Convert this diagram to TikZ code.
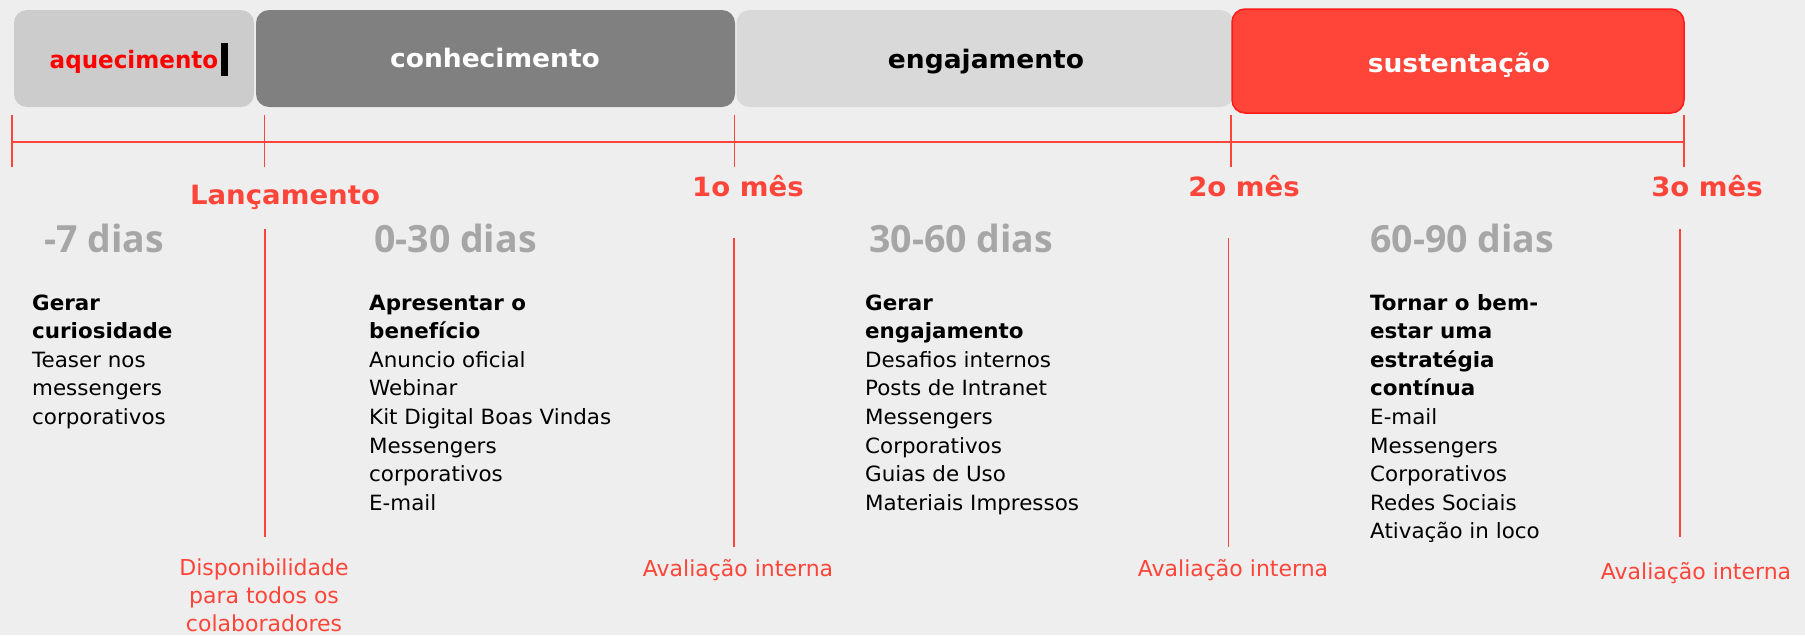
\documentclass[tikz,border=0pt]{standalone}
\usepackage{fontspec}
\setmainfont{DejaVu Sans}[FakeStretch=1.02]
\newfontfamily\hdfont{DejaVu Sans}[FakeStretch=1.04]
\newfontfamily\aqfont{DejaVu Sans}[FakeStretch=0.96]
\newfontfamily\lblfont{DejaVu Sans}
\newfontfamily\daysfont{Open Sans}
\definecolor{bgc}{HTML}{EEEEEE}
\definecolor{aqc}{HTML}{CCCCCC}
\definecolor{coc}{HTML}{808080}
\definecolor{enc}{HTML}{D9D9D9}
\definecolor{suc}{HTML}{FF4539}
\definecolor{suedge}{HTML}{FF1A1A}
\definecolor{redc}{HTML}{FF4539}
\definecolor{pured}{HTML}{FF0000}
\definecolor{dayc}{HTML}{A6A6A6}
\tikzset{
  phasebox/.style={rounded corners=13pt, inner sep=0pt, outer sep=0pt},
  phasetext/.style={font=\hdfont\bfseries\fontsize{25.5}{30}\selectfont, anchor=base, inner sep=0pt},
  milestone/.style={font=\hdfont\bfseries\fontsize{26.5}{30}\selectfont, text=redc, anchor=base, inner sep=0pt},
  daystext/.style={font=\daysfont\bfseries\fontsize{37.5}{40}\selectfont, text=dayc, anchor=base west, inner sep=0pt},
  body/.style={font=\fontsize{21}{28.6}\selectfont, text=black, anchor=base west, inner sep=0pt},
  evaltext/.style={font=\lblfont\fontsize{22}{28.7}\selectfont, text=redc, anchor=base, inner sep=0pt},
  axisline/.style={draw=redc, line width=2.2pt},
  tickline/.style={draw=redc, line width=1.4pt},
  guide/.style={draw=redc, line width=1.8pt}
}
\begin{document}
\begin{tikzpicture}[x=1pt, y=-1pt]
\path[fill=bgc, use as bounding box] (0,0) rectangle (1805,635);

% phase boxes
\node[phasebox, fill=aqc, minimum width=240pt, minimum height=97pt] (aqbox) at (134,58.5) {};
\node[phasebox, fill=enc, minimum width=497pt, minimum height=97pt] (enbox) at (985,58.5) {};
\node[phasebox, fill=coc, minimum width=479pt, minimum height=97pt] (cobox) at (495.5,58.5) {};
\node[phasebox, fill=suc, draw=suedge, line width=1.5pt, minimum width=452pt, minimum height=104pt] (subox) at (1458,61) {};

\node[phasetext, text=pured, font=\aqfont\bfseries\fontsize{24}{30}\selectfont] (aqtxt) at (134,68) {aquecimento};
\node[fill=black, inner sep=0pt, minimum width=6.5pt, minimum height=33pt] (cursor) at (224.5,59.5) {};
\node[phasetext, text=white] (cotxt) at (495,67) {conhecimento};
\node[phasetext, text=black] (entxt) at (986,68) {engajamento};
\node[phasetext, text=white] (sutxt) at (1459,72) {sustentação};

% timeline
\coordinate (t0) at (12,142);
\coordinate (t1) at (264.5,142);
\coordinate (t2) at (734.5,142);
\coordinate (t3) at (1231,142);
\coordinate (t4) at (1684,142);
\draw[axisline] (t0) -- (t4);
\foreach \c in {t0,t1,t2,t3,t4}
  \draw[tickline] ([yshift=-25pt]\c) -- ([yshift=27pt]\c);

% milestones
\node[milestone] (m0) at (285,204) {Lançamento};
\node[milestone] (m1) at (748,196) {1o mês};
\node[milestone] (m2) at (1244,196) {2o mês};
\node[milestone] (m3) at (1707,196) {3o mês};

% day ranges
\node[daystext] (d0) at (44,252) {-7 dias};
\node[daystext] (d1) at (374,252) {0-30 dias};
\node[daystext] (d2) at (869,252) {30-60 dias};
\node[daystext] (d3) at (1370,252) {60-90 dias};

% vertical guides
\coordinate (g1a) at (265,229); \coordinate (g1b) at (265,537);
\coordinate (g2a) at (734,238); \coordinate (g2b) at (734,547);
\coordinate (g3a) at (1228.5,238); \coordinate (g3b) at (1228.5,547);
\coordinate (g4a) at (1680,229); \coordinate (g4b) at (1680,537);
\draw[guide] (g1a) -- (g1b);
\draw[guide] (g2a) -- (g2b);
\draw[guide] (g3a) -- (g3b);
\draw[guide] (g4a) -- (g4b);

% body blocks
\foreach [count=\i from 0] \t in {{\textbf{Gerar}},{\textbf{curiosidade}},Teaser nos,messengers,corporativos}
  \node[body] (ba-\i) at (32,310+28.6*\i) {\t};
\foreach [count=\i from 0] \t in {{\textbf{Apresentar o}},{\textbf{benefício}},Anuncio oficial,Webinar,Kit Digital Boas Vindas,Messengers,corporativos,E-mail}
  \node[body] (bb-\i) at (369,310+28.6*\i) {\t};
\foreach [count=\i from 0] \t in {{\textbf{Gerar}},{\textbf{engajamento}},Desafios internos,Posts de Intranet,Messengers,Corporativos,Guias de Uso,Materiais Impressos}
  \node[body] (bc-\i) at (865,310+28.6*\i) {\t};
\foreach [count=\i from 0] \t in {{\textbf{Tornar o bem-}},{\textbf{estar uma}},{\textbf{estratégia}},{\textbf{contínua}},E-mail,Messengers,Corporativos,Redes Sociais,Ativação in loco}
  \node[body] (bd-\i) at (1370,310+28.6*\i) {\t};

% bottom labels
\foreach [count=\i from 0] \t in {Disponibilidade,para todos os,colaboradores}
  \node[evaltext] (e0-\i) at (264,575+28.2*\i) {\t};
\node[evaltext] (e1) at (738,576) {Avaliação interna};
\node[evaltext] (e2) at (1233,576) {Avaliação interna};
\node[evaltext] (e3) at (1696,579) {Avaliação interna};
\end{tikzpicture}
\end{document}
